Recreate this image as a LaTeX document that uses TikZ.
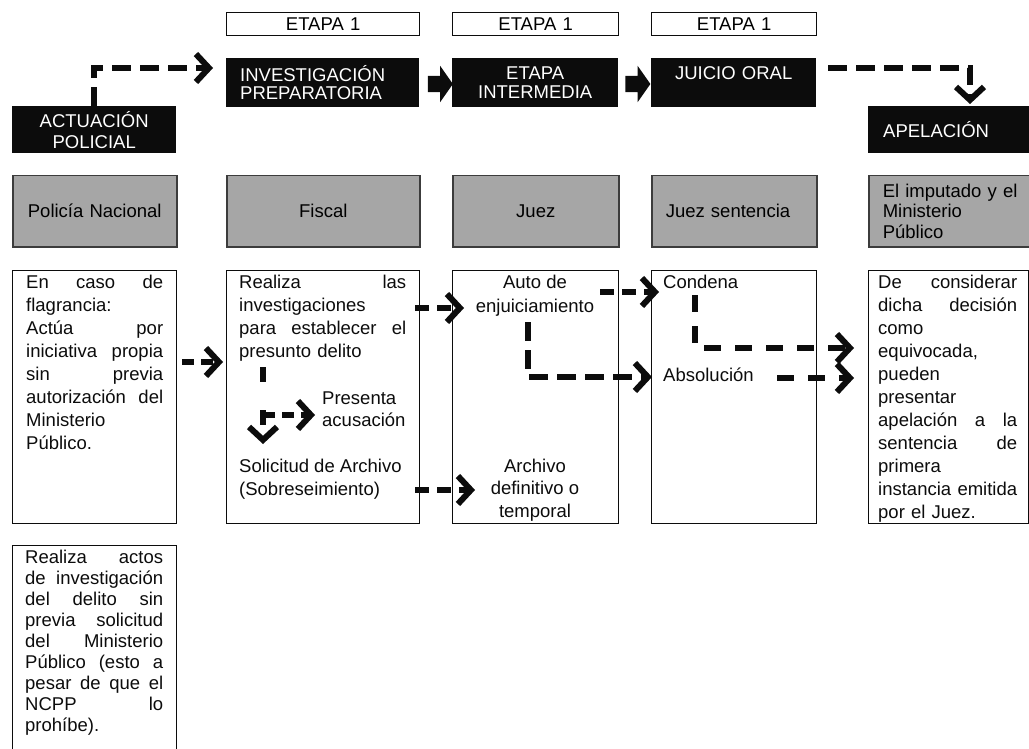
\documentclass[tikz,border=0pt]{standalone}
\usepackage{fontspec}
\setmainfont{Liberation Sans}
\usetikzlibrary{arrows.meta,shapes.arrows}

\definecolor{grisfondo}{RGB}{166,166,166}
\definecolor{grisborde}{RGB}{60,60,60}
\definecolor{negro}{RGB}{12,12,12}

\tikzset{
  fnt/.style={font=\fontsize{18.5}{23}\selectfont},
  etapa/.style={fnt, draw=negro, line width=1.3pt, anchor=north west, inner sep=0pt,
    minimum height=23pt, align=center},
  blk/.style={fill=negro, text=white, anchor=north west, inner xsep=14pt, inner ysep=0pt,
    minimum height=49pt, font=\fontsize{18.5}{18.5}\selectfont},
  gry/.style={fnt, fill=grisfondo, draw=grisborde, line width=1.5pt, anchor=north west,
    inner xsep=14pt, inner ysep=0pt, minimum height=71pt},
  wbox/.style={draw=negro, line width=1.3pt, anchor=north west, inner sep=0pt,
    minimum height=253pt, minimum width=#1},
  wtxt/.style={fnt, text=negro, inner sep=0pt, anchor=north west, align=left},
  blkarr/.style={single arrow, fill=negro, inner sep=8pt, minimum height=25pt,
    single arrow head extend=10pt, single arrow tip angle=110},
  darr/.style={draw=negro, line width=6pt, dash pattern=on 19pt off 9pt,
    -{Straight Barb[length=13pt,width=28pt]}},
  darrw/.style={darr, dash pattern=on 17pt off 14pt}
}

\begin{document}
\begin{tikzpicture}[x=1pt, y=-1pt]
\useasboundingbox (0,0) rectangle (1029,749);
\clip (0,0) rectangle (1029,749);

% etapas
\node[etapa, text width=193pt] (e1) at (226,12) {ETAPA 1};
\node[etapa, text width=166pt] (e2) at (452,12) {ETAPA 1};
\node[etapa, text width=165pt] (e3) at (651,12) {ETAPA 1};

% black headers
\node[blk, text width=165pt, align=left] (ip) at (226,58) {INVESTIGACIÓN\\PREPARATORIA};
\node[blk, text width=138pt, align=center] (ei) at (452,58) {ETAPA\\INTERMEDIA};
\node[blk, text width=137pt, align=center] (jo) at (651,58) {JUICIO ORAL\\\mbox{}};
\node[blk, text width=136pt, align=center, minimum height=47pt,
  font=\fontsize{18.5}{21}\selectfont] (ap) at (12,106) {ACTUACIÓN\\POLICIAL};
\node[blk, text width=150pt, align=left, inner xsep=15pt, minimum height=47pt] (apl) at (868,106) {APELACIÓN};

\node[blkarr] (ba1) at (437.5,84) {};
\node[blkarr] (ba2) at (635,84) {};

% grey row
\node[gry, text width=136pt, align=center] (g1) at (12,175) {Policía Nacional};
\node[gry, text width=165pt, align=center] (g2) at (226,175) {Fiscal};
\node[gry, text width=138pt, align=center] (g3) at (452,175) {Juez};
\node[gry, text width=137pt, align=left] (g4) at (651,175) {Juez sentencia};
\node[gry, text width=146pt, align=left, font=\fontsize{18.5}{20.5}\selectfont] (g5) at (868,175)
  {El imputado y el\\Ministerio\\Público};

% white frames
\node[wbox=164pt] (w1) at (12,270) {};
\node[wbox=193pt] (w2) at (226,270) {};
\node[wbox=166pt] (w3) at (452,270) {};
\node[wbox=165pt] (w4) at (651,270) {};
\node[wbox=160pt] (w5) at (868,270) {};
\node[wbox=164pt, minimum height=230pt] (w6) at (12,545) {};

% texts
\node[wtxt, text width=137pt] (t1) at (26,274.6) {En \hfill caso \hfill de\\
  flagrancia:\\
  Actúa \hfill por\\
  iniciativa \hfill propia\\
  sin \hfill previa\\
  autorización \hfill del\\
  Ministerio\\
  Público.};
\node[wtxt, text width=167pt] (t2) at (239,274.6) {Realiza \hfill las\\
  investigaciones\\
  para \hfill establecer \hfill el\\
  presunto delito};
\node[wtxt, font=\fontsize{18.5}{22}\selectfont] (pres) at (322,391.6) {Presenta\\acusación};
\node[wtxt] (sol) at (239,458.6) {Solicitud de Archivo\\(Sobreseimiento)};
\node[wtxt, anchor=north, align=center, font=\fontsize{18.5}{24}\selectfont] (auto) at (535,274.6)
  {Auto de\\enjuiciamiento};
\node[wtxt, anchor=north, align=center, font=\fontsize{18.5}{22.5}\selectfont] (arch) at (535,458.6)
  {Archivo\\definitivo o\\temporal};
\node[wtxt] (cond) at (663,274.6) {Condena};
\node[wtxt] (abs) at (663,367.6) {Absolución};
\node[wtxt, text width=139pt] (t5) at (878,274.6) {De \hfill considerar\\
  dicha \hfill decisión\\
  como\\
  equivocada,\\
  pueden\\
  presentar\\
  apelación \hfill a \hfill la\\
  sentencia \hfill de\\
  primera\\
  instancia \hfill emitida\\
  por el Juez.};
\node[wtxt, text width=138pt, font=\fontsize{18.5}{21}\selectfont] (t6) at (25,549.6) {Realiza \hfill actos\\
  de \hfill investigación\\
  del \hfill delito \hfill sin\\
  previa \hfill solicitud\\
  del \hfill Ministerio\\
  Público \hfill (esto \hfill a\\
  pesar \hfill de \hfill que \hfill el\\
  NCPP \hfill lo\\
  prohíbe).};

% arrow ends
\coordinate (ip-in) at (213,68);
\coordinate (jo-out) at (828,68);
\coordinate (apl-in) at (970,104);
\coordinate (pn-out) at (182,362);
\coordinate (fi-in) at (223,362);
\coordinate (inv-out) at (415,308);
\coordinate (auto-in) at (464,308);
\coordinate (fi-top) at (263,367);
\coordinate (fi-br) at (263,415);
\coordinate (fi-dn) at (263,444);
\coordinate (pres-in) at (315,415);
\coordinate (sol-out) at (415,490);
\coordinate (arch-in) at (475,490);
\coordinate (auto-out) at (600,292);
\coordinate (cond-in) at (659,292);
\coordinate (auto-dn) at (528,322);
\coordinate (abs-in) at (652,377);
\coordinate (cond-dn) at (695,295);
\coordinate (apl-in1) at (854,348);
\coordinate (abs-out) at (777,378);
\coordinate (apl-in2) at (854,378);

% dashed connectors
\draw[darr] (ap.north) |- (ip-in);
\draw[darr] (jo-out) -| (apl-in);
\draw[darr, dash pattern=on 12pt off 7pt] (pn-out) -- (fi-in);
\draw[darr, dash pattern=on 14pt off 8pt] (inv-out) -- (auto-in);
\draw[darr, dash pattern=on 15pt off 28pt] (fi-top) -- (fi-dn);
\draw[darr, dash pattern=on 12pt off 7pt] (fi-br) -- (pres-in);
\draw[darr, dash pattern=on 14pt off 8pt] (sol-out) -- (arch-in);
\draw[darr, dash pattern=on 14pt off 8pt] (auto-out) -- (cond-in);
\draw[darr] (auto-dn) |- (abs-in);
\draw[darrw] (cond-dn) |- (apl-in1);
\draw[darrw] (abs-out) -- (apl-in2);
\end{tikzpicture}
\end{document}
